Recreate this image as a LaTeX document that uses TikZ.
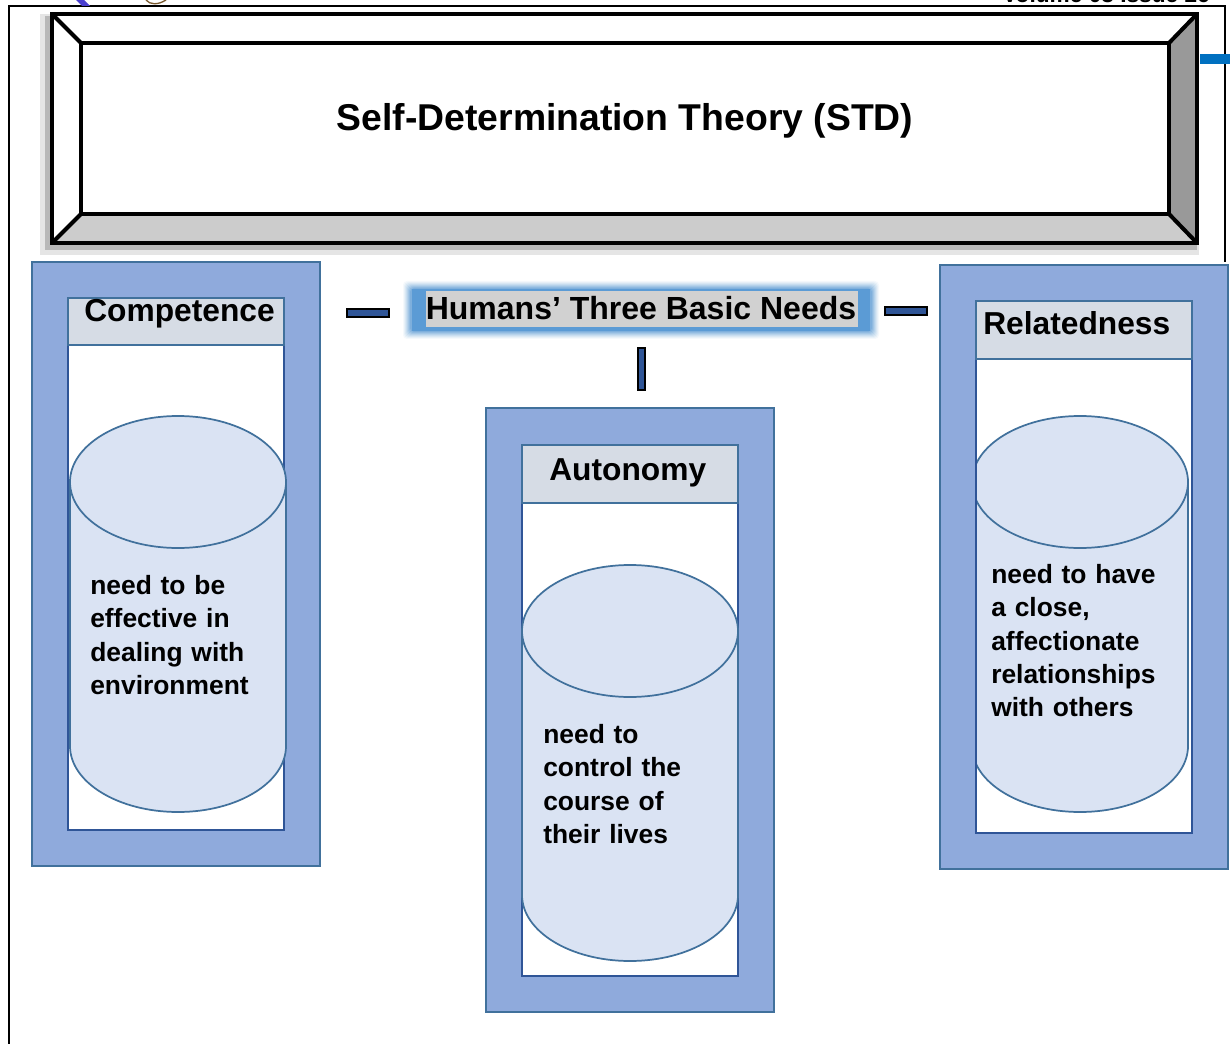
\documentclass[tikz,border=0pt]{standalone}
\usepackage{fontspec}
\setmainfont{Liberation Sans}
\definecolor{outerblue}{HTML}{8FAADC}
\definecolor{edgeblue}{HTML}{41719C}
\definecolor{headfill}{HTML}{D6DCE5}
\definecolor{cylfill}{HTML}{DAE3F3}
\definecolor{barblue}{HTML}{2F5597}
\definecolor{glowblue}{HTML}{5B9BD5}
\definecolor{stubblue}{HTML}{0070C0}
\definecolor{logoblue}{HTML}{4A3FD0}
\definecolor{logobrown}{HTML}{7A5A30}
\tikzset{x=0.75pt,y=-0.75pt,
 outerbox/.style={draw=edgeblue,line width=1.5pt,fill=outerblue},
 innerbox/.style={draw=barblue,line width=1.5pt,fill=white},
 headbox/.style={draw=edgeblue,line width=1.3pt,fill=headfill},
 cyl/.style={draw=edgeblue,line width=1.3pt,fill=cylfill},
 linkbar/.style={draw=black,line width=1.4pt,fill=barblue},
 frameline/.style={draw=black,line width=3pt,line join=miter},
 headtext/.style={font=\bfseries\fontsize{23.8}{24}\selectfont,inner sep=0pt,anchor=base west},
 bodytext/.style={font=\bfseries\fontsize{19.8}{25}\selectfont,inner sep=0pt,anchor=north west,align=left,text width=150pt}
}
\begin{document}
\begin{tikzpicture}
\useasboundingbox (0,0) rectangle (1230,1044);
\fill[white] (0,0) rectangle (1230,1044);
% page rule
\draw[black,line width=1.5pt] (9,1044) -- (9,6) -- (1225,6) -- (1225,262);
% logo and header fragments
\begin{scope}
\clip (0,0) rectangle (1230,5);
\node[font=\bfseries\fontsize{17}{17}\selectfont,inner sep=0pt,anchor=base east] (vol) at (1210,3) {Volume 03 Issue 26};
\end{scope}
\fill[logoblue] (76,0) -- (84,0) -- (90,6) -- (82,6) -- cycle;
\draw[logobrown,line width=1pt] (146,0) .. controls (150,5) and (158,5) .. (166,0);
% blue stub
\fill[stubblue] (1200,54) rectangle (1230,64);
% frame shadow
\fill[black!10] (40,14) rectangle (1199,255);
\fill[black!28] (45,16) rectangle (1197,250);
% frame bevel
\coordinate (fa) at (52,14); \coordinate (fb) at (1197,14);
\coordinate (fc) at (1197,243); \coordinate (fd) at (52,243);
\coordinate (ia) at (81,43); \coordinate (ib) at (1169,43);
\coordinate (ic) at (1169,214); \coordinate (id) at (81,214);
\fill[white] (fa) -- (fb) -- (fc) -- (fd) -- cycle;
\fill[black!40] (fb) -- (fc) -- (ic) -- (ib) -- cycle;
\fill[black!20] (fc) -- (fd) -- (id) -- (ic) -- cycle;
\draw[frameline] (fa) -- (fb) -- (fc) -- (fd) -- cycle;
\draw[frameline] (ia) -- (ib) -- (ic) -- (id) -- cycle;
\draw[frameline] (fa) -- (ia) (fb) -- (ib) (fc) -- (ic) (fd) -- (id);
\node[font=\bfseries\fontsize{28}{28}\selectfont,inner sep=0pt] (title) at (625,121) {Self-Determination Theory (STD)};
% glow
\foreach \g/\o in {8/0.06,7/0.08,6/0.1,5/0.12,4/0.16,3/0.2,2/0.25,1/0.35}
  \fill[glowblue,opacity=\o,rounded corners=3pt] (411-\g,289-\g) rectangle (871+\g,331+\g);
\fill[glowblue] (412,289) rectangle (870,331);
\fill[black!18] (426,291) rectangle (858,327);
\node[font=\bfseries\fontsize{24}{24}\selectfont,inner sep=0pt] (needs) at (641,308) {Humans’ Three Basic Needs};
% link bars
\path[linkbar] (347,309) rectangle (389,317);
\path[linkbar] (885,307) rectangle (927,315);
\path[linkbar] (638,348) rectangle (645,390);
% Competence
\path[outerbox] (32,262) rectangle (320,866);
\path[innerbox] (68,298) rectangle (284,830);
\path[headbox] (68,298) rectangle (284,345);
\path[cyl] (70,482) -- (70,746) arc[x radius=108,y radius=66,start angle=180,end angle=0] -- (286,482) -- cycle;
\path[cyl] (178,482) ellipse[x radius=108,y radius=66];
\node[headtext] (ca) at (84,322) {Competence};
\node[bodytext] (ct) at (90,575) {need to be\\effective in\\dealing with\\environment};
% Autonomy
\path[outerbox] (486,408) rectangle (774,1012);
\path[innerbox] (522,445) rectangle (738,976);
\path[headbox] (522,445) rectangle (738,503);
\path[cyl] (522,631) -- (522,895) arc[x radius=108,y radius=66,start angle=180,end angle=0] -- (738,631) -- cycle;
\path[cyl] (630,631) ellipse[x radius=108,y radius=66];
\node[headtext] (aa) at (549,480) {Autonomy};
\node[bodytext] (at) at (543,724) {need to\\control the\\course of\\their lives};
% Relatedness
\path[outerbox] (940,265) rectangle (1228,869);
\path[innerbox] (976,301) rectangle (1192,833);
\path[headbox] (976,301) rectangle (1192,359);
\begin{scope}
\clip (976,400) rectangle (1200,830);
\path[cyl] (972,482) -- (972,746) arc[x radius=108,y radius=66,start angle=180,end angle=0] -- (1188,482) -- cycle;
\path[cyl] (1080,482) ellipse[x radius=108,y radius=66];
\end{scope}
\draw[barblue,line width=1.5pt] (976,400) -- (976,830);
\node[headtext] (ra) at (983,335) {Relatedness};
\node[bodytext] (rt) at (991,564) {need to have\\a close,\\affectionate\\relationships\\with others};
\end{tikzpicture}
\end{document}
